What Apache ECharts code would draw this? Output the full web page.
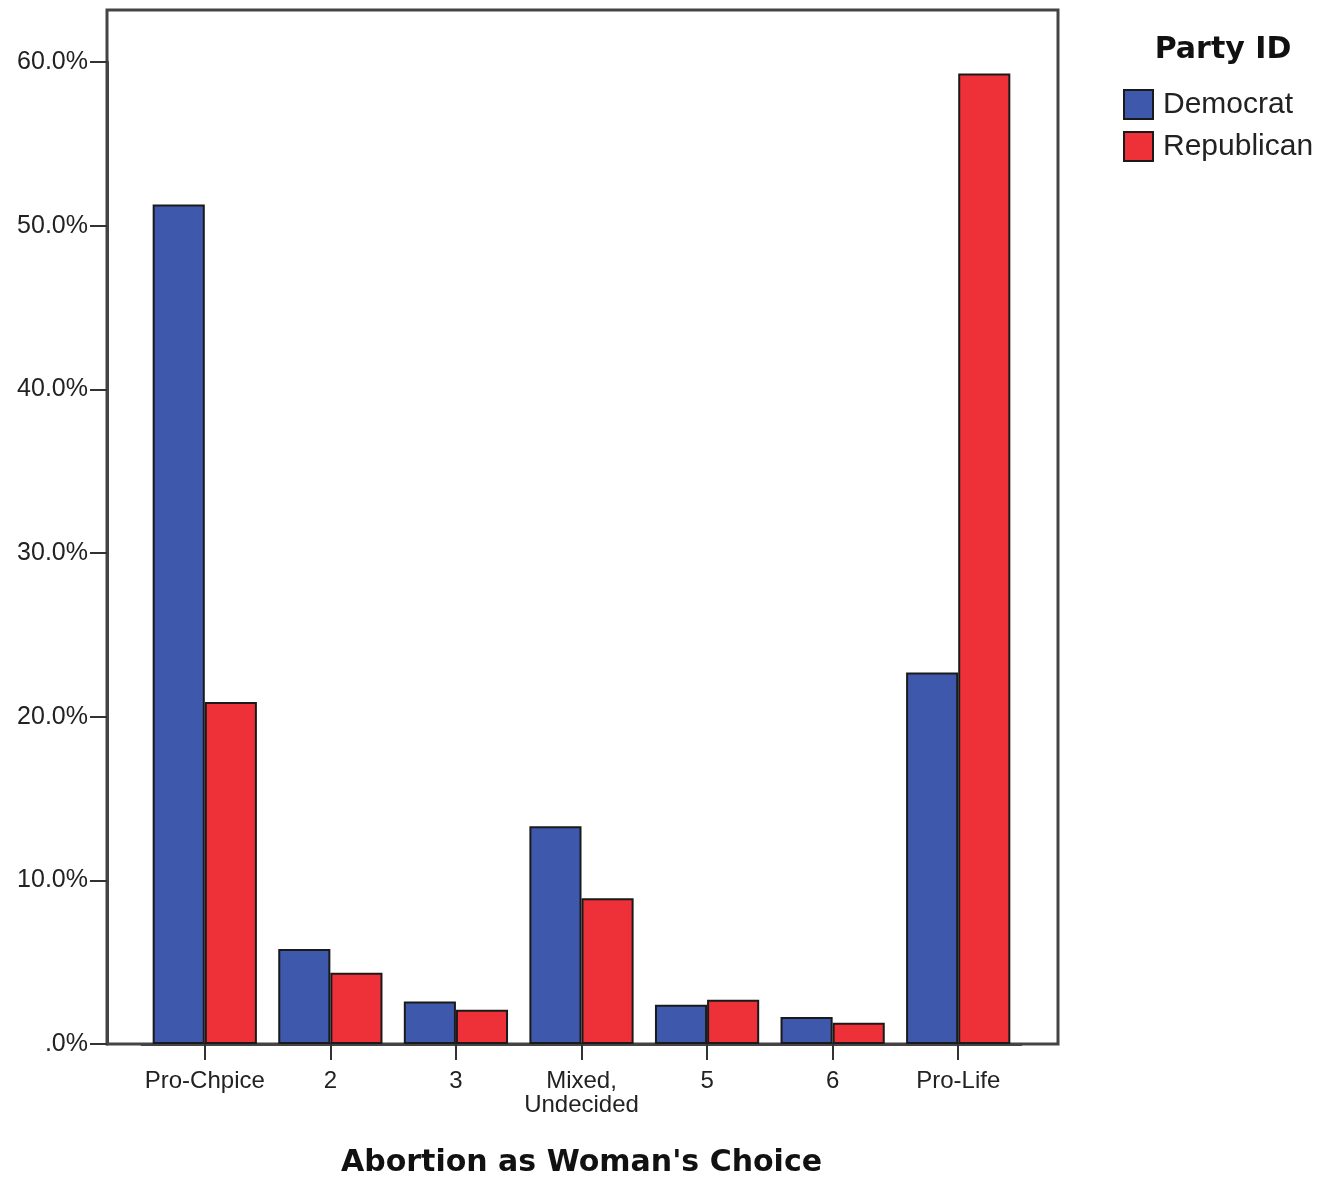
<!DOCTYPE html>
<html>
<head>
<meta charset="utf-8">
<script src="https://cdn.jsdelivr.net/npm/echarts@6/dist/echarts.min.js"></script>
<style>
html,body{margin:0;padding:0;background:#fff;}
#chart{width:1321px;height:1177px;}
</style>
</head>
<body>
<div id="chart"></div>
<script>
const categories = ['Pro-Chpice', '2', '3', 'Mixed,\nUndecided', '5', '6', 'Pro-Life'];
const democrat = [51.3, 5.8, 2.6, 13.3, 2.4, 1.65, 22.7];
const republican = [20.9, 4.35, 2.1, 8.9, 2.7, 1.3, 59.3];
const yTicks = [0, 10, 20, 30, 40, 50, 60];

const chart = echarts.init(document.getElementById('chart'));
const labelFont = 'Liberation Sans, Arial, sans-serif';
const boldFont = 'DejaVu Sans, Verdana, sans-serif';

chart.setOption({
  animation: false,
  backgroundColor: '#ffffff',
  title: {
    text: 'Party ID',
    left: 1218, top: 30, textAlign: 'center',
    textStyle: { fontFamily: boldFont, fontWeight: 'bold', fontSize: 30, color: '#111' }
  },
  legend: {
    orient: 'vertical',
    left: 1118, top: 84,
    itemWidth: 29, itemHeight: 29, itemGap: 11,
    icon: 'rect',
    itemStyle: { borderColor: '#1a1a1a', borderWidth: 2 },
    textStyle: { fontFamily: labelFont, fontSize: 30, color: '#222', padding: [0, 0, 0, 5] },
    data: ['Democrat', 'Republican']
  },
  grid: [
    { left: 107, right: 263, top: 10, bottom: 133, outerBoundsMode: 'none', containLabel: false,
      show: true, borderColor: '#444', borderWidth: 3, backgroundColor: 'transparent' },
    { left: 142, right: 300, top: 62, bottom: 133, outerBoundsMode: 'none', containLabel: false }
  ],
  xAxis: [
    { type: 'value', gridIndex: 0, show: false, min: 0, max: 1 },
    {
      type: 'category', gridIndex: 1, data: categories,
      axisLine: { show: true, lineStyle: { color: '#444', width: 3 } },
      axisTick: { show: true, alignWithLabel: true, length: 16, lineStyle: { color: '#333', width: 2 } },
      axisLabel: { fontFamily: labelFont, fontSize: 24, color: '#222', margin: 25, lineHeight: 24, interval: 0 },
      name: "Abortion as Woman's Choice",
      nameLocation: 'middle', nameGap: 104,
      nameTextStyle: { fontFamily: boldFont, fontWeight: 'bold', fontSize: 30, color: '#111' }
    }
  ],
  yAxis: [
    { type: 'value', gridIndex: 0, show: false, min: 0, max: 1 },
    {
      type: 'value', gridIndex: 1, min: yTicks[0], max: yTicks[yTicks.length - 1], interval: 10,
      offset: 35,
      splitLine: { show: false },
      axisLine: { show: true, lineStyle: { color: '#444', width: 3 } },
      axisTick: { show: true, length: 17, lineStyle: { color: '#333', width: 2 } },
      axisLabel: {
        fontFamily: labelFont, fontSize: 25, color: '#222', margin: 19,
        padding: [6, 0, 0, 0],
        formatter: v => (v === 0 ? '.0%' : v.toFixed(1) + '%')
      }
    }
  ],
  series: [
    {
      name: 'Democrat', type: 'bar', xAxisIndex: 1, yAxisIndex: 1,
      data: democrat, barGap: '0%', barCategoryGap: '17%',
      itemStyle: { color: '#3E58AC', borderColor: '#1a1a1a', borderWidth: 2 }
    },
    {
      name: 'Republican', type: 'bar', xAxisIndex: 1, yAxisIndex: 1,
      data: republican, barGap: '0%', barCategoryGap: '17%',
      itemStyle: { color: '#EE3039', borderColor: '#1a1a1a', borderWidth: 2 }
    }
  ]
});
</script>
</body>
</html>
